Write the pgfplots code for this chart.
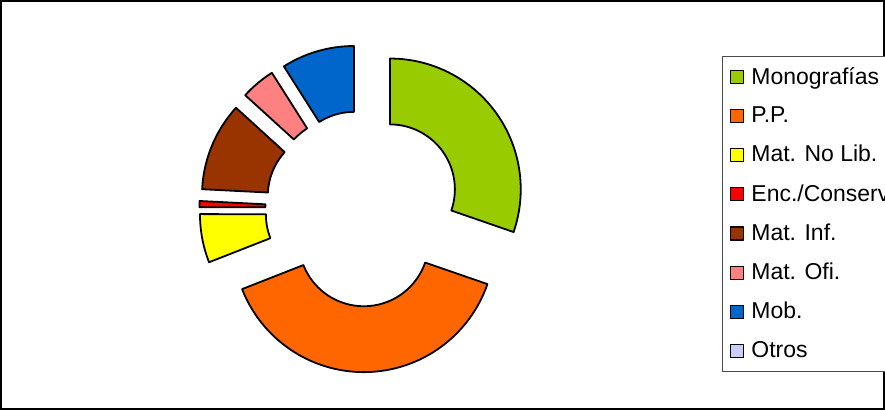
\documentclass[border=0pt]{standalone}
\usepackage{fontspec}
\setmainfont{Liberation Sans}
\usepackage{pgfplots}
\usepackage{pgfplotstable}
\pgfplotsset{compat=1.18}

\definecolor{monog}{HTML}{99CC00}
\definecolor{pp}{HTML}{FF6600}
\definecolor{matnolib}{HTML}{FFFF00}
\definecolor{enc}{HTML}{FF0000}
\definecolor{matinf}{HTML}{993300}
\definecolor{matofi}{HTML}{FF8080}
\definecolor{mob}{HTML}{0066CC}
\definecolor{otros}{HTML}{CCCCFF}

% share of each category (percent)
\pgfplotstableread[col sep=comma]{
name,value,color
Monografías,30.3,monog
P.P.,38.75,pp
Mat. No Lib.,6.0,matnolib
Enc./Conserv.,0.75,enc
Mat. Inf.,10.95,matinf
Mat. Ofi.,4.25,matofi
Mob.,9.0,mob
Otros,0,otros
}\slices

% donut geometry (axis units = pixels)
\def\cx{363}
\def\cy{201}
\def\Rout{131}
\def\Rin{65}
\def\explode{33}

\pgfplotstablegetrowsof{\slices}
\pgfmathtruncatemacro\lastrow{\pgfplotsretval-1}
\def\total{0}
\foreach \i in {0,...,\lastrow}{%
  \pgfplotstablegetelem{\i}{value}\of\slices
  \pgfmathsetmacro\tmp{\total+\pgfplotsretval}%
  \xdef\total{\tmp}}%
% outline of each slice, from the shares above
\gdef\startang{90}
\foreach \i in {0,...,\lastrow}{%
  \pgfplotstablegetelem{\i}{value}\of\slices
  \pgfmathsetmacro\sweep{\pgfplotsretval/\total*360}%
  \pgfmathsetmacro\endang{\startang-\sweep}%
  \pgfmathsetmacro\midang{(\startang+\endang)/2}%
  \pgfmathsetmacro\ox{\cx+\explode*cos(\midang)}%
  \pgfmathsetmacro\oy{\cy+\explode*sin(\midang)}%
  \pgfmathtruncatemacro\nsteps{max(2,ceil(\sweep))}%
  \pgfmathsetmacro\dstep{\sweep/\nsteps}%
  \gdef\coords{}%
  \foreach \k in {0,...,\nsteps}{%
    \pgfmathsetmacro\ang{\startang-\dstep*\k}%
    \pgfmathsetmacro\qx{\ox+\Rout*cos(\ang)}%
    \pgfmathsetmacro\qy{\oy+\Rout*sin(\ang)}%
    \xdef\coords{\coords (\qx,\qy)}}%
  \foreach \k in {\nsteps,...,0}{%
    \pgfmathsetmacro\ang{\startang-\dstep*\k}%
    \pgfmathsetmacro\qx{\ox+\Rin*cos(\ang)}%
    \pgfmathsetmacro\qy{\oy+\Rin*sin(\ang)}%
    \xdef\coords{\coords (\qx,\qy)}}%
  \expandafter\xdef\csname slice\i\endcsname{\coords}%
  \expandafter\xdef\csname sweep\i\endcsname{\sweep}%
  \xdef\startang{\endang}%
}%

\begin{document}
\begin{tikzpicture}
\begin{scope}
\clip (-0.4pt,-0.4pt) rectangle (442.9pt,204.9pt);
\begin{axis}[
    at={(0,0)}, anchor=south west,
    x=0.5pt, y=0.5pt,
    xmin=0, xmax=885, ymin=0, ymax=409,
    xtick=\empty, ytick=\empty,
    axis line style={line width=0.8pt},
    clip=false,
    legend cell align=left,
    legend image code/.code={%
      \draw[#1, draw=black, line width=0.6pt] (0pt,-3.25pt) rectangle (6.5pt,3.25pt);
      \path (8pt,0pt);},
    legend style={
      at={(axis cs:722,354)}, anchor=north west,
      draw=black!70, line width=0.5pt, fill=white,
      font=\fontsize{11.5}{13.5}\selectfont,
      inner xsep=4pt, inner ysep=3.5pt,
      row sep=5.85pt},
  ]
\pgfplotsforeachungrouped \i in {0,...,\lastrow}{%
  \pgfplotstablegetelem{\i}{color}\of\slices \let\col\pgfplotsretval
  \pgfplotstablegetelem{\i}{name}\of\slices \let\nm\pgfplotsretval
  \edef\sw{\csname sweep\i\endcsname}%
  \ifdim\sw pt>0pt
    \edef\temp{\noexpand\addplot[fill=\col, draw=black, line width=0.9pt,
      line join=round, mark=none] coordinates {\csname slice\i\endcsname} -- cycle;}%
  \else
    \edef\temp{\noexpand\addlegendimage{fill=\col, draw=black}}%
  \fi
  \temp
  \edef\temp{\noexpand\addlegendentry{\nm}}\temp
}
\end{axis}
\end{scope}
\pgfresetboundingbox
\path (-0.4pt,-0.4pt) rectangle (442.9pt,204.9pt);
\end{tikzpicture}
\end{document}
